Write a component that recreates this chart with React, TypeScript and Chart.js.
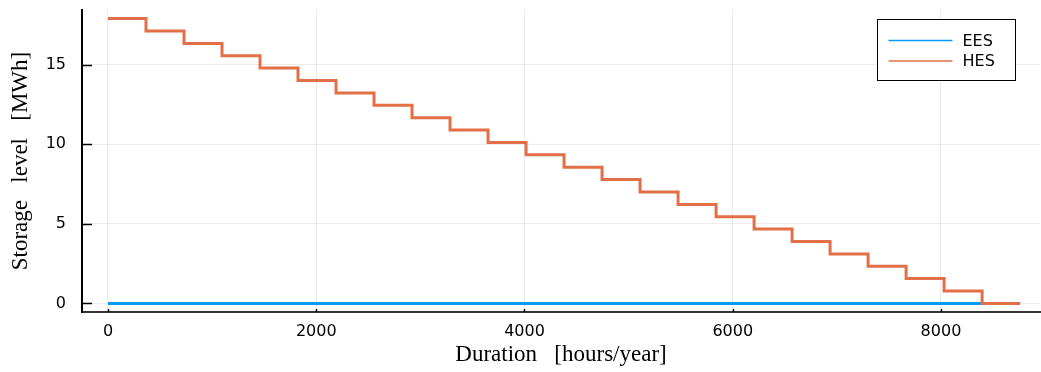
import React, { useEffect, useRef } from 'react';
import { Chart, registerables } from 'chart.js';

Chart.register(...registerables);

// Duration breakpoints [hours/year]
const durationHours = [
  0, 365, 730, 1095, 1460, 1825, 2190, 2555, 2920, 3285, 3650, 4015, 4380,
  4745, 5110, 5475, 5840, 6205, 6570, 6935, 7300, 7665, 8030, 8395, 8760,
];
// Storage level [MWh]
const eesLevels = [
  0, 0, 0, 0, 0, 0, 0, 0, 0, 0, 0, 0, 0, 0, 0, 0, 0, 0, 0, 0, 0, 0, 0, 0, 0,
];
const hesLevels = [
  17.9, 17.12, 16.34, 15.57, 14.79, 14.01, 13.23, 12.45, 11.67, 10.89, 10.12,
  9.34, 8.56, 7.78, 7.0, 6.22, 5.45, 4.67, 3.89, 3.11, 2.33, 1.56, 0.78, 0, 0,
];
const seriesNames = ['EES', 'HES'];
const seriesColors = ['#009AFA', '#E26F46'];
const xTicks = [0, 2000, 4000, 6000, 8000];
const yTicks = [0, 5, 10, 15];
const xTitle = 'Duration   [hours/year]';
const yTitle = 'Storage   level   [MWh]';

const SANS = '"DejaVu Sans", sans-serif';
const SERIF = '"Liberation Serif", "DejaVu Serif", serif';

const inwardTicks = {
  id: 'inwardTicks',
  afterDraw(chart: any) {
    const { ctx, chartArea } = chart;
    const xs = chart.scales.x;
    const ys = chart.scales.y;
    ctx.save();
    ctx.strokeStyle = '#000';
    ctx.lineWidth = 1.5;
    ctx.beginPath();
    for (const v of yTicks) {
      const py = Math.round(ys.getPixelForValue(v)) + 0.5;
      ctx.moveTo(chartArea.left, py);
      ctx.lineTo(chartArea.left + 10, py);
    }
    for (const v of xTicks) {
      const px = Math.round(xs.getPixelForValue(v)) + 0.5;
      ctx.moveTo(px, chartArea.bottom);
      ctx.lineTo(px, chartArea.bottom - 3);
    }
    ctx.stroke();
    ctx.restore();
  },
};

const boxLegend = {
  id: 'boxLegend',
  afterDraw(chart: any) {
    const { ctx, chartArea } = chart;
    const right = chartArea.right - 24.5;
    const left = right - 138;
    const top = chartArea.top + 9.5;
    const h = 61;
    ctx.save();
    ctx.fillStyle = '#fff';
    ctx.fillRect(left, top, right - left, h);
    ctx.strokeStyle = '#000';
    ctx.lineWidth = 1;
    ctx.strokeRect(left, top, right - left, h);
    ctx.font = `16px ${SANS}`;
    ctx.textBaseline = 'middle';
    ctx.textAlign = 'left';
    seriesNames.forEach((name, i) => {
      const y = top + 21 + i * 20.5;
      ctx.strokeStyle = seriesColors[i];
      ctx.lineWidth = 1.5;
      ctx.beginPath();
      ctx.moveTo(left + 11, y);
      ctx.lineTo(left + 75, y);
      ctx.stroke();
      ctx.fillStyle = '#000';
      ctx.fillText(name, left + 85, y + 1);
    });
    ctx.restore();
  },
};

export default function App() {
  const ref = useRef<HTMLCanvasElement | null>(null);

  useEffect(() => {
    if (!ref.current) return;
    const toPoints = (ys: number[]) => durationHours.map((x, i) => ({ x, y: ys[i] }));
    const chart = new Chart(ref.current, {
      type: 'line',
      data: {
        datasets: [
          {
            label: seriesNames[0],
            data: toPoints(eesLevels),
            borderColor: seriesColors[0],
            backgroundColor: seriesColors[0],
            borderWidth: 3,
            pointRadius: 0,
            stepped: true,
            order: 1,
          },
          {
            label: seriesNames[1],
            data: toPoints(hesLevels),
            borderColor: seriesColors[1],
            backgroundColor: seriesColors[1],
            borderWidth: 3,
            pointRadius: 0,
            stepped: true,
            order: 0,
          },
        ],
      },
      options: {
        responsive: false,
        animation: false,
        layout: { padding: { left: 0, right: 1, top: 10, bottom: 0 } },
        plugins: { legend: { display: false }, tooltip: { enabled: false } },
        scales: {
          x: {
            type: 'linear',
            min: -249.7,
            max: 8951,
            afterBuildTicks: (s: any) => {
              s.ticks = xTicks.map((v) => ({ value: v }));
            },
            afterFit: (s: any) => {
              s.height = 60;
              s.paddingLeft = 0;
              s.paddingRight = 0;
            },
            grid: { color: 'rgba(0,0,0,0.075)', lineWidth: 1, drawTicks: false },
            border: { display: true, color: '#333', width: 2 },
            ticks: {
              color: '#000',
              padding: 10,
              maxRotation: 0,
              font: { family: SANS, size: 16 },
              callback: (v: any) => String(v),
            },
            title: {
              display: true,
              text: xTitle,
              color: '#000',
              font: { family: SERIF, size: 23 },
              padding: { top: 0, bottom: 3 },
            },
          },
          y: {
            type: 'linear',
            min: -0.537,
            max: 18.437,
            afterBuildTicks: (s: any) => {
              s.ticks = yTicks.map((v) => ({ value: v }));
            },
            afterFit: (s: any) => {
              s.width = 82;
              s.paddingTop = 0;
              s.paddingBottom = 0;
            },
            grid: { color: 'rgba(0,0,0,0.075)', lineWidth: 1, drawTicks: false },
            border: { display: true, color: '#000', width: 2 },
            ticks: {
              color: '#000',
              padding: 16,
              font: { family: SANS, size: 16 },
              callback: (v: any) => String(v),
            },
            title: {
              display: true,
              text: yTitle,
              color: '#000',
              font: { family: SERIF, size: 23 },
              padding: { top: 7, bottom: 0 },
            },
          },
        },
      },
      plugins: [inwardTicks, boxLegend],
    });
    return () => chart.destroy();
  }, []);

  return (
    <div style={{ position: 'fixed', left: 0, top: 0, width: 1041, height: 372, background: '#fff' }}>
      <canvas ref={ref} width={1041} height={372} style={{ width: 1041, height: 372, display: 'block' }} />
    </div>
  );
}
